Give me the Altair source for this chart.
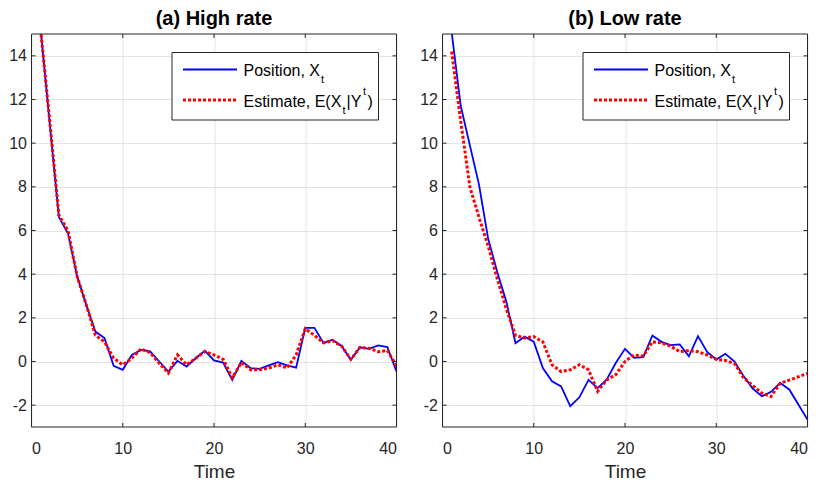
import altair as alt
import pandas as pd

# ---------------- data ----------------
time = list(range(1, 41))

high_position = [15.2, 10.9, 6.62, 5.86, 3.9, 2.6, 1.37, 1.07, -0.2, -0.38,
                 0.3, 0.53, 0.46, 0.0, -0.46, 0.03, -0.23, 0.15, 0.49, 0.05,
                 -0.05, -0.85, 0.03, -0.3, -0.34, -0.18, -0.03, -0.18, -0.28, 1.54,
                 1.54, 0.85, 1.0, 0.7, 0.08, 0.65, 0.58, 0.74, 0.66, -0.46]
high_estimate = [15.2, 11.0, 6.7, 6.0, 3.9, 2.6, 1.2, 0.9, 0.15, -0.15,
                 0.15, 0.58, 0.4, -0.08, -0.53, 0.3, -0.15, 0.15, 0.46, 0.3,
                 0.1, -0.74, -0.05, -0.38, -0.38, -0.3, -0.15, -0.3, 0.3, 1.5,
                 1.2, 0.85, 0.95, 0.7, 0.1, 0.65, 0.6, 0.45, 0.5, -0.2]

low_position = [15.1, 11.7, 9.9, 8.1, 5.63, 4.1, 2.74, 0.84, 1.14, 0.91,
                -0.3, -0.91, -1.14, -2.05, -1.64, -0.84, -1.22, -0.82, -0.06, 0.58,
                0.17, 0.2, 1.19, 0.9, 0.75, 0.78, 0.24, 1.16, 0.44, 0.09,
                0.35, 0.0, -0.67, -1.24, -1.59, -1.39, -0.98, -1.28, -1.97, -2.66]
low_estimate = [14.2, 11.0, 8.0, 6.6, 5.3, 3.8, 2.4, 1.2, 1.07, 1.14,
                0.9, -0.15, -0.46, -0.38, -0.15, -0.38, -1.37, -0.84, -0.6, 0.0,
                0.3, 0.25, 0.9, 0.85, 0.7, 0.45, 0.5, 0.45, 0.3, 0.1,
                0.05, -0.1, -0.75, -1.1, -1.45, -1.6, -1.0, -0.85, -0.7, -0.55]

x_ticks = [0, 10, 20, 30, 40]
y_ticks = [-2, 0, 2, 4, 6, 8, 10, 12, 14]
titles = ["(a) High rate", "(b) Low rate"]

# ---------------- styling ----------------
W, H = 365, 393
FONT = "Liberation Sans"
DARK = "#262626"
BLUE = "#0000ff"
RED = "#ff0000"

xscale = alt.Scale(domain=[0, 40], nice=False, zero=False)
yscale = alt.Scale(domain=[-3, 15], nice=False, zero=False)
xaxis = alt.Axis(values=x_ticks, title="Time", labelExpr="'' + datum.value")
yaxis = alt.Axis(values=y_ticks, title=None, labelExpr="'' + datum.value")

one = pd.DataFrame({"k": [0]})


def text_piece(txt, x, y, size=16):
    return alt.Chart(one).mark_text(
        text=txt, align="left", baseline="alphabetic", font=FONT,
        fontSize=size, color="black"
    ).encode(x=alt.value(x), y=alt.value(y))


def panel(title, pos, est):
    df = pd.DataFrame({"t": time, "pos": pos, "est": est})
    xenc = alt.X("t:Q", scale=xscale, axis=xaxis)
    base = alt.Chart(df)
    blue = base.mark_line(color=BLUE, strokeWidth=1.8, clip=True).encode(
        x=xenc, y=alt.Y("pos:Q", scale=yscale, axis=yaxis))
    red = base.mark_line(color=RED, strokeWidth=3, strokeDash=[3, 2],
                         strokeCap="butt", clip=True).encode(
        x=xenc, y=alt.Y("est:Q", scale=yscale, axis=yaxis))

    xt = pd.DataFrame({"v": x_ticks})
    yt = pd.DataFrame({"v": y_ticks})
    xv = alt.X("v:Q", scale=xscale, axis=xaxis)
    yv = alt.Y("v:Q", scale=yscale, axis=yaxis)
    tick_style = dict(color=DARK, strokeWidth=1)
    ticks_b = alt.Chart(xt).mark_rule(**tick_style).encode(
        x=xv, y=alt.value(H), y2=alt.value(H - 4))
    ticks_t = alt.Chart(xt).mark_rule(**tick_style).encode(
        x=xv, y=alt.value(0), y2=alt.value(4))
    ticks_l = alt.Chart(yt).mark_rule(**tick_style).encode(
        y=yv, x=alt.value(0), x2=alt.value(4))
    ticks_r = alt.Chart(yt).mark_rule(**tick_style).encode(
        y=yv, x=alt.value(W), x2=alt.value(W - 4))

    box = alt.Chart(one).mark_rect(fill=None, stroke=DARK, strokeWidth=1).encode(
        x=alt.value(0), x2=alt.value(W), y=alt.value(0), y2=alt.value(H))

    leg_box = alt.Chart(one).mark_rect(fill="white", stroke=DARK, strokeWidth=1).encode(
        x=alt.value(140.5), x2=alt.value(347), y=alt.value(18.5), y2=alt.value(86))
    leg_blue = alt.Chart(one).mark_rule(color=BLUE, strokeWidth=1.8).encode(
        x=alt.value(151.5), x2=alt.value(205.5), y=alt.value(35.5))
    leg_red = alt.Chart(one).mark_rule(color=RED, strokeWidth=3, strokeDash=[3, 2],
                                       strokeCap="butt").encode(
        x=alt.value(151.5), x2=alt.value(205.5), y=alt.value(66))
    texts = [
        text_piece("Position, X", 212, 41.5),
        text_piece("t", 289.5, 49, 11),
        text_piece("Estimate, E(X", 212, 72.5),
        text_piece("t", 311, 80, 11),
        text_piece("|Y", 315, 72.5),
        text_piece("t", 331.5, 61, 11),
        text_piece(")", 336, 72.5),
    ]

    layers = [blue, red, ticks_b, ticks_t, ticks_l, ticks_r, box,
              leg_box, leg_blue, leg_red] + texts
    return alt.layer(*layers).properties(
        width=W, height=H,
        title=alt.TitleParams(title, font=FONT, fontSize=20, fontWeight="bold",
                              color="black", anchor="middle", offset=5),
    )


chart = alt.hconcat(
    panel(titles[0], high_position, high_estimate),
    panel(titles[1], low_position, low_estimate),
    spacing=22,
).properties(
    padding={"left": 0.5, "top": 0, "right": 0, "bottom": 0}
).configure_view(
    stroke=None
).configure_axis(
    labelFont=FONT, labelFontSize=16, labelColor=DARK, labelPadding=5,
    titleFont=FONT, titleFontSize=19, titleFontWeight="normal", titleColor=DARK,
    titlePadding=6,
    tickSize=0, domain=False, grid=True, gridColor="#e3e3e3", gridWidth=1,
).configure_axisX(
    labelPadding=13,
)

chart.save("out.html", embed_options={"renderer": "svg", "actions": False})
